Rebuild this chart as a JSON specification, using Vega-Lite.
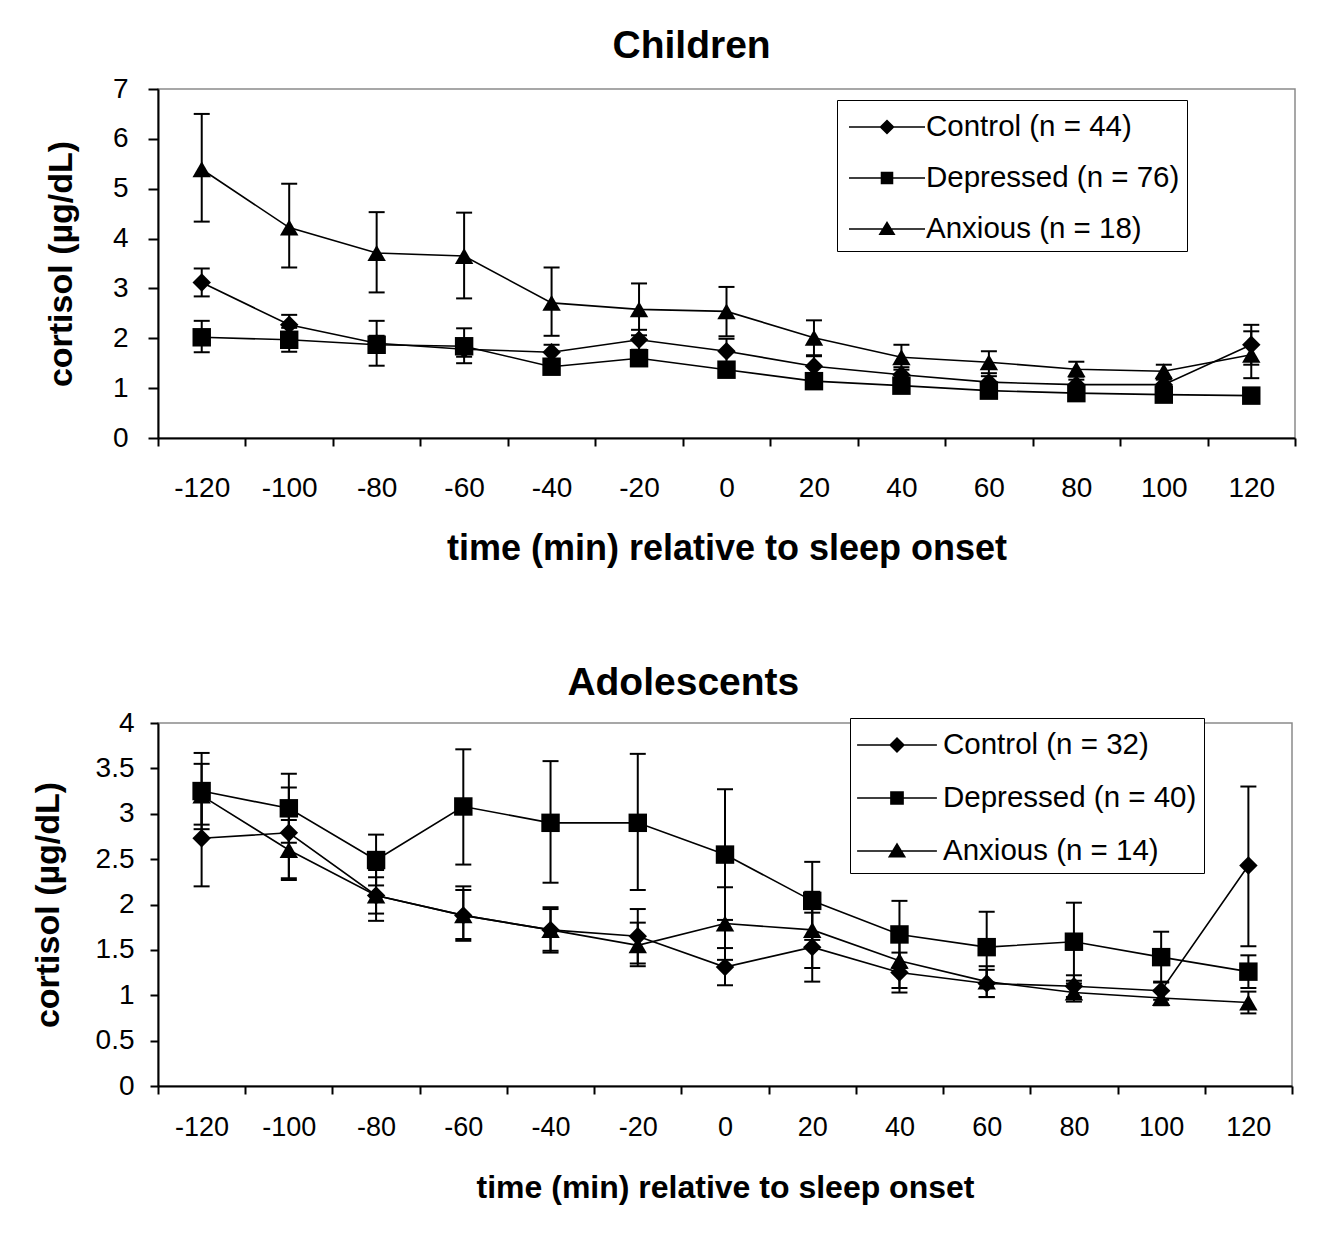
{
  "$schema": "https://vega.github.io/schema/vega-lite/v6.json",
  "padding": {"left": 30, "top": 26, "right": 10, "bottom": 10},
  "background": "white",
  "config": {
    "font": "Liberation Sans",
    "view": {"stroke": "#8a8a8a", "strokeWidth": 1.5},
    "axis": {
      "domainColor": "black", "domainWidth": 2, "tickColor": "black", "tickWidth": 2,
      "grid": false, "labelColor": "black", "titleColor": "black",
      "labelFont": "Liberation Sans", "titleFont": "Liberation Sans",
      "titleFontWeight": "bold", "labelOverlap": false, "labelFlush": false
    },
    "title": {"fontSize": 39, "fontWeight": "bold", "frame": "bounds", "anchor": "middle", "color": "black", "font": "Liberation Sans"}
  },
  "spacing": 96,
  "resolve": {"scale": {"x": "independent", "y": "independent", "shape": "independent"}, "legend": {"shape": "independent"}},
  "vconcat": [
    {
      "title": {"text": "Children", "offset": 9},
      "width": 1137,
      "height": 349,
      "data": {"values": [
        {"t": -120, "g": "Control (n = 44)", "m": 3.12, "lo": 2.84, "hi": 3.40},
        {"t": -100, "g": "Control (n = 44)", "m": 2.27, "lo": 2.07, "hi": 2.47},
        {"t": -80, "g": "Control (n = 44)", "m": 1.90, "lo": 1.75, "hi": 2.05},
        {"t": -60, "g": "Control (n = 44)", "m": 1.78, "lo": 1.63, "hi": 1.93},
        {"t": -40, "g": "Control (n = 44)", "m": 1.72, "lo": 1.57, "hi": 1.87},
        {"t": -20, "g": "Control (n = 44)", "m": 1.97, "lo": 1.77, "hi": 2.17},
        {"t": 0, "g": "Control (n = 44)", "m": 1.74, "lo": 1.49, "hi": 1.99},
        {"t": 20, "g": "Control (n = 44)", "m": 1.44, "lo": 1.24, "hi": 1.64},
        {"t": 40, "g": "Control (n = 44)", "m": 1.27, "lo": 1.12, "hi": 1.42},
        {"t": 60, "g": "Control (n = 44)", "m": 1.12, "lo": 1.00, "hi": 1.24},
        {"t": 80, "g": "Control (n = 44)", "m": 1.07, "lo": 0.97, "hi": 1.17},
        {"t": 100, "g": "Control (n = 44)", "m": 1.07, "lo": 0.97, "hi": 1.17},
        {"t": 120, "g": "Control (n = 44)", "m": 1.87, "lo": 1.47, "hi": 2.27},
        {"t": -120, "g": "Depressed (n = 76)", "m": 2.02, "lo": 1.72, "hi": 2.35},
        {"t": -100, "g": "Depressed (n = 76)", "m": 1.97, "lo": 1.73, "hi": 2.21},
        {"t": -80, "g": "Depressed (n = 76)", "m": 1.87, "lo": 1.45, "hi": 2.35},
        {"t": -60, "g": "Depressed (n = 76)", "m": 1.84, "lo": 1.50, "hi": 2.20},
        {"t": -40, "g": "Depressed (n = 76)", "m": 1.43, "lo": 1.31, "hi": 1.55},
        {"t": -20, "g": "Depressed (n = 76)", "m": 1.60, "lo": 1.50, "hi": 1.70},
        {"t": 0, "g": "Depressed (n = 76)", "m": 1.37, "lo": 1.27, "hi": 1.47},
        {"t": 20, "g": "Depressed (n = 76)", "m": 1.14, "lo": 1.06, "hi": 1.22},
        {"t": 40, "g": "Depressed (n = 76)", "m": 1.05, "lo": 0.97, "hi": 1.13},
        {"t": 60, "g": "Depressed (n = 76)", "m": 0.95, "lo": 0.88, "hi": 1.02},
        {"t": 80, "g": "Depressed (n = 76)", "m": 0.90, "lo": 0.83, "hi": 0.97},
        {"t": 100, "g": "Depressed (n = 76)", "m": 0.87, "lo": 0.81, "hi": 0.93},
        {"t": 120, "g": "Depressed (n = 76)", "m": 0.85, "lo": 0.79, "hi": 0.91},
        {"t": -120, "g": "Anxious (n = 18)", "m": 5.39, "lo": 4.34, "hi": 6.50},
        {"t": -100, "g": "Anxious (n = 18)", "m": 4.22, "lo": 3.42, "hi": 5.10},
        {"t": -80, "g": "Anxious (n = 18)", "m": 3.71, "lo": 2.92, "hi": 4.53},
        {"t": -60, "g": "Anxious (n = 18)", "m": 3.65, "lo": 2.80, "hi": 4.52},
        {"t": -40, "g": "Anxious (n = 18)", "m": 2.71, "lo": 2.05, "hi": 3.42},
        {"t": -20, "g": "Anxious (n = 18)", "m": 2.58, "lo": 2.06, "hi": 3.10},
        {"t": 0, "g": "Anxious (n = 18)", "m": 2.54, "lo": 2.04, "hi": 3.03},
        {"t": 20, "g": "Anxious (n = 18)", "m": 2.01, "lo": 1.66, "hi": 2.36},
        {"t": 40, "g": "Anxious (n = 18)", "m": 1.62, "lo": 1.37, "hi": 1.87},
        {"t": 60, "g": "Anxious (n = 18)", "m": 1.52, "lo": 1.30, "hi": 1.74},
        {"t": 80, "g": "Anxious (n = 18)", "m": 1.38, "lo": 1.23, "hi": 1.53},
        {"t": 100, "g": "Anxious (n = 18)", "m": 1.34, "lo": 1.21, "hi": 1.47},
        {"t": 120, "g": "Anxious (n = 18)", "m": 1.67, "lo": 1.20, "hi": 2.14}
      ]},
      "encoding": {
        "x": {"field": "t", "type": "quantitative",
          "scale": {"domain": [-130, 130], "nice": false, "zero": false},
          "axis": {"values": [-130, -110, -90, -70, -50, -30, -10, 10, 30, 50, 70, 90, 110, 130],
            "labelExpr": "datum.value >= 130 ? '' : '' + (datum.value + 10)",
            "labelOffset": 43.7, "tickSize": 8, "labelPadding": 28, "labelFontSize": 28,
            "title": "time (min) relative to sleep onset", "titleFontSize": 36, "titlePadding": 29}}
      },
      "resolve": {"scale": {"shape": "independent"}, "legend": {"shape": "independent"}},
      "layer": [
        {"mark": {"type": "line", "color": "black", "strokeWidth": 1.6},
         "encoding": {"y": {"field": "m", "type": "quantitative",
            "scale": {"domain": [0, 7], "nice": false},
            "axis": {"values": [0, 1, 2, 3, 4, 5, 6, 7], "labelExpr": "'' + datum.value", "title": "cortisol (µg/dL)", "labelFontSize": 28,
              "tickSize": 10, "labelPadding": 20, "titleFontSize": 34, "titlePadding": 34}},
           "detail": {"field": "g", "type": "nominal"}}},
        {"mark": {"type": "rule", "color": "black", "strokeWidth": 2},
         "encoding": {"y": {"field": "lo", "type": "quantitative"}, "y2": {"field": "hi"}}},
        {"mark": {"type": "tick", "color": "black", "orient": "horizontal", "size": 16, "thickness": 2, "opacity": 1},
         "encoding": {"y": {"field": "hi", "type": "quantitative"}}},
        {"mark": {"type": "tick", "color": "black", "orient": "horizontal", "size": 16, "thickness": 2, "opacity": 1},
         "encoding": {"y": {"field": "lo", "type": "quantitative"}}},
        {"mark": {"type": "point", "filled": true, "size": 340, "opacity": 1, "color": "black"},
         "encoding": {
           "y": {"field": "m", "type": "quantitative"},
           "shape": {"field": "g", "type": "nominal",
             "scale": {"domain": ["Control (n = 44)", "Depressed (n = 76)", "Anxious (n = 18)"], "range": ["diamond", "square", "triangle-up"]},
             "legend": null}
         }},
        {"mark": {"type": "point", "filled": true, "color": "black", "opacity": 0},
         "encoding": {
           "y": {"field": "m", "type": "quantitative"},
           "shape": {"field": "g", "type": "nominal",
             "scale": {"domain": ["Control (n = 44)", "Depressed (n = 76)", "Anxious (n = 18)"],
               "range": ["M-2,-0.04H2V0.04H-2ZM0,-0.4L0.4,0L0,0.4L-0.4,0Z", "M-2,-0.04H2V0.04H-2ZM-0.33,-0.33H0.33V0.33H-0.33Z", "M-2,-0.04H2V0.04H-2ZM0,-0.42L0.45,0.32H-0.45Z"]},
             "legend": {"orient": "none", "legendX": 679, "legendY": 11, "title": null,
               "strokeColor": "black", "fillColor": "white", "padding": 7,
               "labelFontSize": 29.5, "labelFont": "Liberation Sans", "labelColor": "black", "labelLimit": 0,
               "symbolSize": 1444, "symbolOffset": 23, "labelOffset": 19, "rowPadding": 16,
               "symbolOpacity": 1, "symbolFillColor": "black"}}
         }}
      ]
    },
    {
      "title": {"text": "Adolescents", "offset": 6},
      "width": 1134,
      "height": 363,
      "data": {"values": [
        {"t": -120, "g": "Control (n = 32)", "m": 2.73, "lo": 2.20, "hi": 3.26},
        {"t": -100, "g": "Control (n = 32)", "m": 2.79, "lo": 2.29, "hi": 3.29},
        {"t": -80, "g": "Control (n = 32)", "m": 2.10, "lo": 1.90, "hi": 2.30},
        {"t": -60, "g": "Control (n = 32)", "m": 1.88, "lo": 1.62, "hi": 2.16},
        {"t": -40, "g": "Control (n = 32)", "m": 1.72, "lo": 1.49, "hi": 1.95},
        {"t": -20, "g": "Control (n = 32)", "m": 1.65, "lo": 1.35, "hi": 1.95},
        {"t": 0, "g": "Control (n = 32)", "m": 1.31, "lo": 1.11, "hi": 1.52},
        {"t": 20, "g": "Control (n = 32)", "m": 1.53, "lo": 1.15, "hi": 1.91},
        {"t": 40, "g": "Control (n = 32)", "m": 1.25, "lo": 1.03, "hi": 1.47},
        {"t": 60, "g": "Control (n = 32)", "m": 1.13, "lo": 0.98, "hi": 1.28},
        {"t": 80, "g": "Control (n = 32)", "m": 1.10, "lo": 0.98, "hi": 1.22},
        {"t": 100, "g": "Control (n = 32)", "m": 1.05, "lo": 0.95, "hi": 1.15},
        {"t": 120, "g": "Control (n = 32)", "m": 2.43, "lo": 1.54, "hi": 3.30},
        {"t": -120, "g": "Depressed (n = 40)", "m": 3.25, "lo": 2.83, "hi": 3.67},
        {"t": -100, "g": "Depressed (n = 40)", "m": 3.06, "lo": 2.68, "hi": 3.44},
        {"t": -80, "g": "Depressed (n = 40)", "m": 2.49, "lo": 2.21, "hi": 2.77},
        {"t": -60, "g": "Depressed (n = 40)", "m": 3.08, "lo": 2.44, "hi": 3.71},
        {"t": -40, "g": "Depressed (n = 40)", "m": 2.90, "lo": 2.24, "hi": 3.58},
        {"t": -20, "g": "Depressed (n = 40)", "m": 2.90, "lo": 2.16, "hi": 3.66},
        {"t": 0, "g": "Depressed (n = 40)", "m": 2.55, "lo": 1.83, "hi": 3.27},
        {"t": 20, "g": "Depressed (n = 40)", "m": 2.04, "lo": 1.61, "hi": 2.47},
        {"t": 40, "g": "Depressed (n = 40)", "m": 1.67, "lo": 1.30, "hi": 2.04},
        {"t": 60, "g": "Depressed (n = 40)", "m": 1.53, "lo": 1.14, "hi": 1.92},
        {"t": 80, "g": "Depressed (n = 40)", "m": 1.59, "lo": 1.16, "hi": 2.02},
        {"t": 100, "g": "Depressed (n = 40)", "m": 1.42, "lo": 1.14, "hi": 1.70},
        {"t": 120, "g": "Depressed (n = 40)", "m": 1.26, "lo": 1.08, "hi": 1.44},
        {"t": -120, "g": "Anxious (n = 14)", "m": 3.20, "lo": 2.88, "hi": 3.55},
        {"t": -100, "g": "Anxious (n = 14)", "m": 2.60, "lo": 2.27, "hi": 2.93},
        {"t": -80, "g": "Anxious (n = 14)", "m": 2.10, "lo": 1.82, "hi": 2.38},
        {"t": -60, "g": "Anxious (n = 14)", "m": 1.88, "lo": 1.60, "hi": 2.20},
        {"t": -40, "g": "Anxious (n = 14)", "m": 1.72, "lo": 1.47, "hi": 1.97},
        {"t": -20, "g": "Anxious (n = 14)", "m": 1.55, "lo": 1.32, "hi": 1.80},
        {"t": 0, "g": "Anxious (n = 14)", "m": 1.79, "lo": 1.39, "hi": 2.19},
        {"t": 20, "g": "Anxious (n = 14)", "m": 1.72, "lo": 1.30, "hi": 2.14},
        {"t": 40, "g": "Anxious (n = 14)", "m": 1.38, "lo": 1.08, "hi": 1.68},
        {"t": 60, "g": "Anxious (n = 14)", "m": 1.15, "lo": 0.98, "hi": 1.32},
        {"t": 80, "g": "Anxious (n = 14)", "m": 1.03, "lo": 0.93, "hi": 1.13},
        {"t": 100, "g": "Anxious (n = 14)", "m": 0.97, "lo": 0.89, "hi": 1.05},
        {"t": 120, "g": "Anxious (n = 14)", "m": 0.92, "lo": 0.80, "hi": 1.04}
      ]},
      "encoding": {
        "x": {"field": "t", "type": "quantitative",
          "scale": {"domain": [-130, 130], "nice": false, "zero": false},
          "axis": {"values": [-130, -110, -90, -70, -50, -30, -10, 10, 30, 50, 70, 90, 110, 130],
            "labelExpr": "datum.value >= 130 ? '' : '' + (datum.value + 10)",
            "labelOffset": 43.6, "tickSize": 8, "labelPadding": 20, "labelFontSize": 27,
            "title": "time (min) relative to sleep onset", "titleFontSize": 32, "titlePadding": 32}}
      },
      "resolve": {"scale": {"shape": "independent"}, "legend": {"shape": "independent"}},
      "layer": [
        {"mark": {"type": "line", "color": "black", "strokeWidth": 1.6},
         "encoding": {"y": {"field": "m", "type": "quantitative",
            "scale": {"domain": [0, 4], "nice": false},
            "axis": {"values": [0, 0.5, 1, 1.5, 2, 2.5, 3, 3.5, 4], "labelExpr": "'' + datum.value", "title": "cortisol (µg/dL)", "labelFontSize": 28,
              "tickSize": 8, "labelPadding": 16, "titleFontSize": 34, "titlePadding": 30}},
           "detail": {"field": "g", "type": "nominal"}}},
        {"mark": {"type": "rule", "color": "black", "strokeWidth": 2},
         "encoding": {"y": {"field": "lo", "type": "quantitative"}, "y2": {"field": "hi"}}},
        {"mark": {"type": "tick", "color": "black", "orient": "horizontal", "size": 16, "thickness": 2, "opacity": 1},
         "encoding": {"y": {"field": "hi", "type": "quantitative"}}},
        {"mark": {"type": "tick", "color": "black", "orient": "horizontal", "size": 16, "thickness": 2, "opacity": 1},
         "encoding": {"y": {"field": "lo", "type": "quantitative"}}},
        {"mark": {"type": "point", "filled": true, "size": 340, "opacity": 1, "color": "black"},
         "encoding": {
           "y": {"field": "m", "type": "quantitative"},
           "shape": {"field": "g", "type": "nominal",
             "scale": {"domain": ["Control (n = 32)", "Depressed (n = 40)", "Anxious (n = 14)"], "range": ["diamond", "square", "triangle-up"]},
             "legend": null}
         }},
        {"mark": {"type": "point", "filled": true, "color": "black", "opacity": 0},
         "encoding": {
           "y": {"field": "m", "type": "quantitative"},
           "shape": {"field": "g", "type": "nominal",
             "scale": {"domain": ["Control (n = 32)", "Depressed (n = 40)", "Anxious (n = 14)"],
               "range": ["M-2.1,-0.04H2.1V0.04H-2.1ZM0,-0.42L0.42,0L0,0.42L-0.42,0Z", "M-2.1,-0.04H2.1V0.04H-2.1ZM-0.36,-0.36H0.36V0.36H-0.36Z", "M-2.1,-0.04H2.1V0.04H-2.1ZM0,-0.45L0.48,0.34H-0.48Z"]},
             "legend": {"orient": "none", "legendX": 692, "legendY": -5, "title": null,
               "strokeColor": "black", "fillColor": "white", "padding": 7,
               "labelFontSize": 29.5, "labelFont": "Liberation Sans", "labelColor": "black", "labelLimit": 0,
               "symbolSize": 1444, "symbolOffset": 20, "labelOffset": 26, "rowPadding": 18,
               "symbolOpacity": 1, "symbolFillColor": "black"}}
         }}
      ]
    }
  ]
}
